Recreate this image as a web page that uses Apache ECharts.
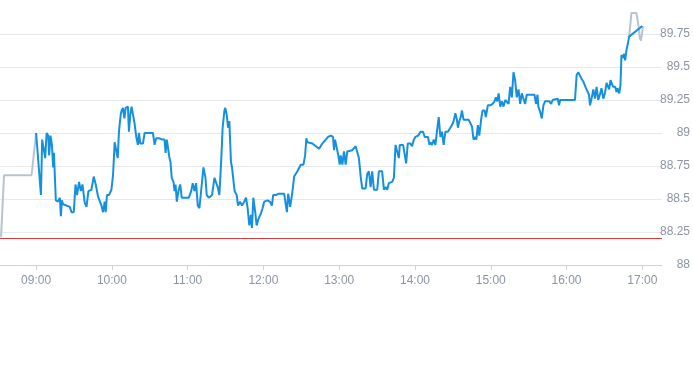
<!DOCTYPE html>
<html>
<head>
<meta charset="utf-8">
<script src="https://cdn.jsdelivr.net/npm/echarts@6/dist/echarts.min.js"></script>
<style>html,body{margin:0;padding:0;background:#fff;}#c{width:693px;height:365px;}</style>
</head>
<body>
<div id="c"></div>
<script>
// times are minutes since midnight
const preTimes = [512.2, 514.6, 536.4, 540];
const preValues = [88.21, 88.68, 88.68, 89.00];

const mainTimes = [
540, 543.8, 544.8, 546.2, 547.2, 548.3, 549.6, 550.3, 551.4, 552.5, 553.5, 554.1, 555.6, 557.4, 558.8, 559.6, 560.4, 561.4, 562.7, 566.7,
568.0, 569.8, 571.2, 572.4, 574.0, 575.4, 576.7, 578.5, 579.9, 581.4, 583.8, 585.6, 587.2, 589.0, 590.4, 591.7, 593.0, 594.3, 595.1, 596.1,
597.7, 599.6, 600.9, 602.2, 603.6, 604.6, 605.6, 607.0, 607.7, 608.8, 609.9, 610.9, 611.9, 612.7, 613.5, 614.6, 615.6, 616.7, 618.0, 619.3,
620.6, 621.4, 622.5, 624.6, 625.9, 632.5, 633.0, 633.8, 635.1, 637.7, 639.9, 641.7, 642.5, 643.5, 644.6, 645.6, 646.4, 647.4, 648.8, 649.6,
650.4, 651.4, 652.7, 654.1, 655.3, 658.8, 660.9, 662.8, 664.0, 665.4, 666.7, 668.0, 669.3, 670.7, 672.5, 674.1, 675.1, 676.7, 679.3, 681.2,
682.5, 683.8, 685.1, 686.5, 687.7, 689.1, 689.8, 690.9, 692.0, 693.0, 694.3, 695.1, 696.2, 697.2, 698.8, 699.9, 701.5, 703.0, 704.8, 706.2,
707.5, 708.8, 710.1, 710.9, 712.0, 713.5, 714.6, 716.1, 718.0, 719.3, 720.6, 722.0, 723.2, 725.1, 726.7, 727.7, 729.9, 731.9, 734.3, 736.4,
737.8, 738.6, 739.6, 741.2, 743.0, 744.3, 745.7, 746.9, 748.3, 749.6, 751.7, 753.0, 754.0, 754.8, 758.8, 761.5, 764.1, 765.9, 767.5, 769.4,
771.2, 773.3, 775.1, 775.9, 776.7, 778.0, 779.3, 780.4, 781.2, 782.5, 783.8, 785.1, 786.4, 787.7, 790.4, 793.0, 794.3, 795.6, 797.0, 798.2,
800.9, 802.2, 803.5, 804.9, 806.1, 807.5, 810.1, 811.4, 814.0, 815.4, 816.7, 818.0, 819.3, 821.9, 823.3, 824.6, 825.9, 827.2, 828.0, 830.6,
833.0, 834.3, 836.4, 837.7, 839.1, 840.4, 842.5, 844.4, 846.4, 847.7, 850.3, 851.5, 852.3, 853.5, 854.9, 856.2, 857.5, 858.8, 860.1, 861.4,
862.7, 864.1, 866.1, 868.0, 869.3, 870.6, 872.0, 873.2, 874.0, 875.1, 876.2, 877.2, 878.5, 879.9, 882.5, 883.8, 885.1, 886.4, 887.8, 888.6,
889.8, 890.9, 892.5, 893.5, 895.1, 896.1, 897.7, 899.6, 901.4, 903.0, 904.0, 905.1, 906.2, 907.5, 908.8, 910.1, 911.5, 912.7, 914.1, 915.4,
916.7, 918.0, 919.3, 920.6, 922.0, 923.3, 924.6, 925.9, 927.2, 928.5, 929.8, 932.5, 934.6, 935.9, 937.0, 937.7, 939.1, 940.4, 941.7, 943.0,
946.4, 947.8, 949.0, 950.4, 953.0, 954.1, 954.9, 966.7, 968.0, 969.3, 970.7, 971.9, 973.3, 974.1, 975.4, 976.4, 977.8, 978.6, 979.8, 981.2,
982.5, 983.8, 985.1, 986.4, 987.7, 989.1, 990.4, 991.7, 993.0, 993.8, 994.8, 996.9, 998.5, 999.6, 1000.3, 1001.7, 1002.7, 1003.5, 1004.8, 1005.6,
1006.4, 1007.5, 1008.8, 1009.6, 1010.6, 1020
];
const mainValues = [
89.00, 88.53, 88.95, 88.87, 88.81, 89.00, 88.98, 88.83, 88.98, 88.91, 88.74, 88.85, 88.49, 88.48, 88.51, 88.37, 88.49, 88.46, 88.45, 88.44,
88.40, 88.40, 88.61, 88.53, 88.63, 88.56, 88.61, 88.47, 88.44, 88.56, 88.57, 88.67, 88.61, 88.52, 88.53, 88.45, 88.40, 88.48, 88.40, 88.53,
88.53, 88.57, 88.68, 88.93, 88.92, 88.81, 89.01, 89.14, 89.17, 89.19, 89.11, 89.19, 89.20, 89.20, 89.01, 89.14, 89.20, 89.19, 89.07, 88.97,
88.91, 89.00, 88.92, 88.92, 89.00, 89.00, 89.01, 88.91, 88.96, 88.96, 88.95, 88.95, 88.85, 88.95, 88.95, 88.81, 88.78, 88.66, 88.63, 88.56,
88.61, 88.48, 88.56, 88.61, 88.51, 88.51, 88.51, 88.56, 88.62, 88.56, 88.62, 88.45, 88.43, 88.43, 88.74, 88.66, 88.53, 88.51, 88.53, 88.66,
88.66, 88.59, 88.53, 88.78, 89.04, 89.17, 89.19, 89.14, 89.04, 89.09, 88.78, 88.74, 88.73, 88.56, 88.53, 88.45, 88.48, 88.45, 88.48, 88.51,
88.43, 88.30, 88.38, 88.28, 88.51, 88.40, 88.30, 88.35, 88.39, 88.43, 88.48, 88.47, 88.49, 88.48, 88.45, 88.53, 88.53, 88.54, 88.54, 88.54,
88.45, 88.40, 88.54, 88.44, 88.56, 88.67, 88.67, 88.71, 88.72, 88.76, 88.76, 88.83, 88.96, 88.93, 88.92, 88.90, 88.88, 88.91, 88.93, 88.95,
88.97, 88.98, 88.97, 88.87, 88.95, 88.95, 88.83, 88.76, 88.83, 88.76, 88.86, 88.76, 88.86, 88.87, 88.87, 88.90, 88.91, 88.81, 88.67, 88.58,
88.58, 88.69, 88.71, 88.59, 88.71, 88.57, 88.57, 88.71, 88.71, 88.57, 88.59, 88.57, 88.62, 88.63, 88.66, 88.91, 88.91, 88.81, 88.91, 88.91,
88.77, 88.92, 88.92, 88.90, 88.95, 88.97, 88.98, 89.01, 89.01, 88.97, 88.97, 88.91, 88.93, 88.91, 88.95, 88.91, 89.02, 89.12, 88.97, 89.01,
88.91, 89.01, 89.01, 89.04, 89.06, 89.09, 89.15, 89.10, 89.04, 89.09, 89.12, 89.17, 89.10, 89.10, 89.10, 89.10, 89.05, 88.95, 88.97, 88.95,
89.06, 88.98, 89.11, 89.17, 89.17, 89.12, 89.21, 89.21, 89.22, 89.24, 89.27, 89.24, 89.30, 89.20, 89.24, 89.20, 89.25, 89.26, 89.22, 89.35,
89.27, 89.46, 89.40, 89.27, 89.33, 89.22, 89.30, 89.26, 89.22, 89.29, 89.29, 89.29, 89.29, 89.22, 89.29, 89.20, 89.16, 89.11, 89.21, 89.24,
89.24, 89.22, 89.25, 89.26, 89.26, 89.21, 89.25, 89.25, 89.44, 89.46, 89.46, 89.41, 89.39, 89.40, 89.34, 89.35, 89.29, 89.21, 89.26, 89.33,
89.26, 89.35, 89.25, 89.29, 89.34, 89.26, 89.30, 89.38, 89.38, 89.33, 89.40, 89.35, 89.35, 89.31, 89.34, 89.30, 89.36, 89.59, 89.57, 89.60,
89.55, 89.63, 89.69, 89.73, 89.74, 89.81
];

const postTimes = [1009.6, 1011.4, 1015.3, 1016.9, 1018.0, 1019.0, 1020.1, 1020.6];
const postValues = [89.73, 89.91, 89.91, 89.82, 89.72, 89.70, 89.78, 89.81];

const refLevel = 88.2;
const yTicks = [88, 88.25, 88.5, 88.75, 89, 89.25, 89.5, 89.75, 90];
const axisMinMinute = 511.4;
const axisMaxMinute = 1035.6;

const base = new Date(2024, 0, 2, 0, 0, 0).getTime();
const toTs = m => base + Math.round(m * 60000);
const pairs = (ts, vs) => ts.map((t, i) => [toTs(t), vs[i]]);

const chart = echarts.init(document.getElementById('c'), null, {renderer: 'canvas'});
chart.setOption({
  animation: false,
  backgroundColor: '#ffffff',
  grid: {left: 0, right: 29, top: 1, bottom: 100, containLabel: false},
  xAxis: {
    type: 'time',
    min: toTs(axisMinMinute),
    max: toTs(axisMaxMinute),
    splitNumber: 9,
    minInterval: 3600000,
    maxInterval: 3600000,
    axisLine: {show: true, lineStyle: {color: '#ccd3dc', width: 1}},
    axisTick: {show: true, length: 5, lineStyle: {color: '#ccd3dc'}},
    splitLine: {show: false},
    axisLabel: {
      color: '#8a94a3', fontSize: 12, margin: 10,
      showMinLabel: false, showMaxLabel: false,
      formatter: v => {
        const d = new Date(v);
        return String(d.getHours()).padStart(2, '0') + ':' + String(d.getMinutes()).padStart(2, '0');
      }
    }
  },
  yAxis: {
    type: 'value',
    position: 'right',
    min: yTicks[0],
    max: yTicks[yTicks.length - 1],
    interval: yTicks[1] - yTicks[0],
    axisLine: {show: false},
    axisTick: {show: false},
    splitLine: {show: true, showMaxLine: false, lineStyle: {color: '#e6e8eb', width: 1}},
    axisLabel: {
      color: '#8a94a3', fontSize: 12, align: 'right', margin: 28,
      showMaxLabel: false,
      formatter: v => String(+v.toFixed(2))
    }
  },
  series: [
    {
      type: 'line', data: pairs(preTimes, preValues), showSymbol: false,
      lineStyle: {color: '#b9c3cf', width: 2}, z: 2
    },
    {
      type: 'line', data: pairs(postTimes, postValues), showSymbol: false,
      lineStyle: {color: '#b9c3cf', width: 2}, z: 2
    },
    {
      type: 'line', data: pairs(mainTimes, mainValues), showSymbol: false,
      lineStyle: {color: '#1590e0', width: 2}, z: 3,
      markLine: {
        silent: true, symbol: ['none', 'none'], label: {show: false},
        lineStyle: {color: '#d93a3a', width: 1, type: 'solid'},
        data: [{yAxis: refLevel}]
      }
    }
  ]
});
</script>
</body>
</html>
